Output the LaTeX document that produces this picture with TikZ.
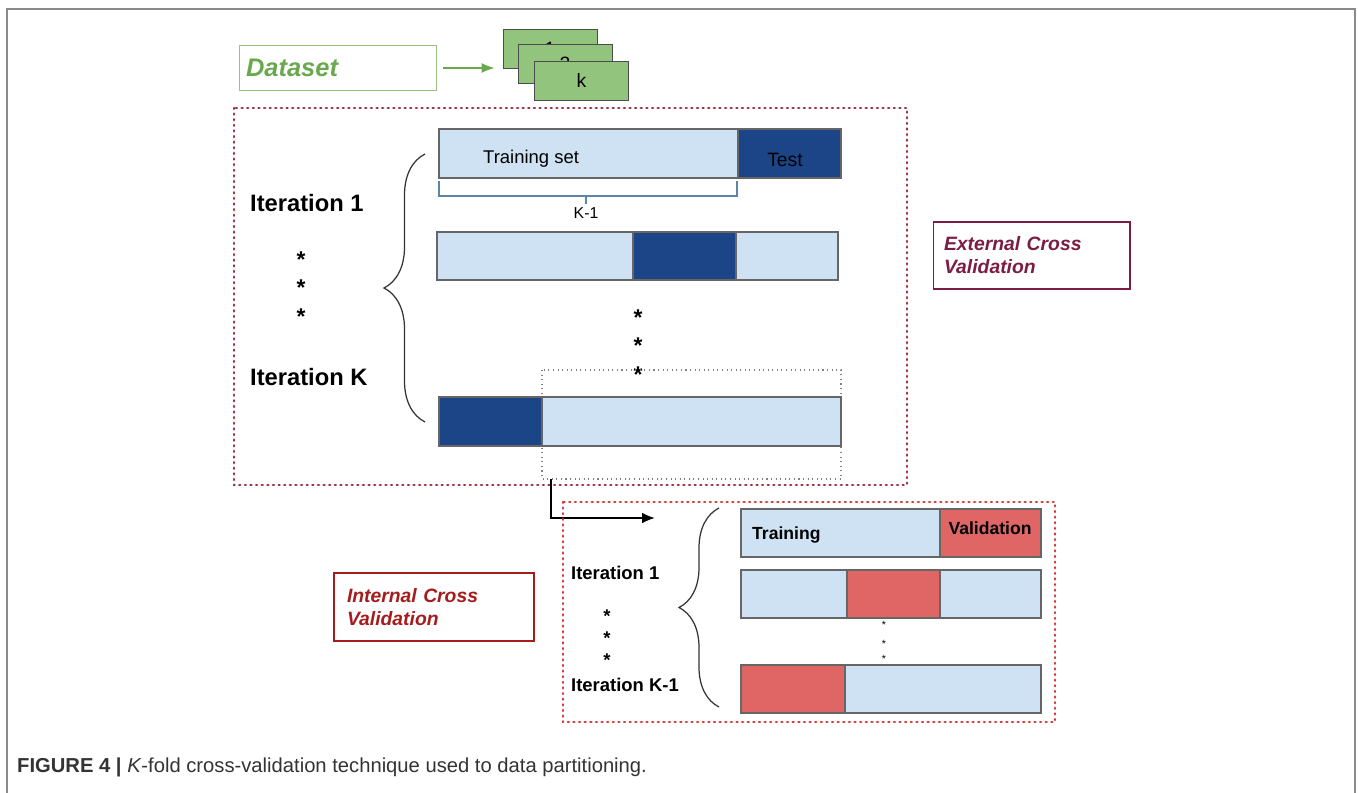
\documentclass[tikz,border=0pt]{standalone}
\usepackage{fontspec}
\setmainfont{Liberation Sans}
\usetikzlibrary{positioning,decorations.pathreplacing,arrows.meta}

\definecolor{lightbar}{HTML}{CFE2F3}
\definecolor{darkbar}{HTML}{1C4587}
\definecolor{redbar}{HTML}{E06666}
\definecolor{cardgreen}{HTML}{93C47D}
\definecolor{textgreen}{HTML}{6AA84F}
\definecolor{extred}{HTML}{7A1C44}
\definecolor{intred}{HTML}{A61C1C}
\definecolor{dotred}{HTML}{D23A3A}
\definecolor{dotmaroon}{HTML}{9A3040}
\definecolor{framegray}{HTML}{8A8A8A}
\definecolor{bracketblue}{HTML}{5B85AA}

\begin{document}
\begin{tikzpicture}[x=0.02cm, y=-0.02cm,
    seg/.style={draw=black!60, line width=0.7pt},
    card/.style={rectangle, draw=black!70, fill=cardgreen, minimum width=1.88cm, minimum height=0.78cm, inner sep=0, font=\fontsize{11}{13}\selectfont},
    labelbox/.style={rectangle, draw, line width=0.6pt, align=left, font=\fontsize{11}{13}\selectfont\bfseries\itshape},
    reddots/.style={line width=1.5pt, line cap=round, dash pattern=on 0.5pt off 2.7pt},
    bigiter/.style={anchor=west, font=\fontsize{13.5}{15}\selectfont\bfseries},
    smalliter/.style={anchor=west, font=\fontsize{10.5}{12}\selectfont\bfseries},
    star/.style={font=\fontsize{13}{15}\selectfont\bfseries},
    curly/.style={decorate, line width=0.7pt, black!80}
]
    \useasboundingbox (0,0) rectangle (1358,793);

    % Figure frame
    \draw[framegray, line width=1.1pt] (7,793) -- (7,9) -- (1355,9) -- (1355,793);

    % Dataset and folds
    \node[labelbox, draw=textgreen!70, text=textgreen, font=\fontsize{14.5}{16}\selectfont\bfseries\itshape, minimum height=0.9cm, text width=3.68cm, inner xsep=0.13cm] (dataset) at (338,68) {Dataset};
    \node[card] (fold1) at (550,48.5) {1};
    \node[card] (fold2) at (565,64) {2};
    \node[card] (foldk) at (581.5,80.5) {k};
    \draw[textgreen, line width=1pt, -{Latex[length=2.6mm, width=2mm]}] ([xshift=0.12cm]dataset.east) -- ([xshift=-0.16cm]dataset.east -| fold1.west);

    % External cross validation
    \draw[dotmaroon, reddots] (234,108) rectangle (907,485);
    \node[labelbox, draw=extred, text=extred, minimum height=1.34cm, text width=3.5cm, inner xsep=0.22cm] (extlabel) at (1031.5,255.5) {External Cross\\Validation};

    % Outer folds
    \draw[seg, fill=lightbar] (439,129) rectangle (738,178);
    \draw[seg, fill=darkbar] (738,129) rectangle (841,178);
    \node[anchor=west, font=\fontsize{10.5}{12}\selectfont] (trainset) at (477,159) {Training set};
    \node[font=\fontsize{11}{13}\selectfont] (test) at (785,160) {Test};

    \draw[bracketblue, line width=0.8pt] (439,181) -- (439,196) -- (737,196) -- (737,181);
    \draw[bracketblue, line width=0.8pt] (586,196) -- (586,204);
    \node[font=\fontsize{9}{11}\selectfont] (kminus) at (586,213) {K-1};

    \draw[seg, fill=lightbar] (437,232) rectangle (838,280);
    \draw[seg, fill=darkbar] (633,232) rectangle (736,280);

    \node[star] (mstar1) at (638,318) {*};
    \node[star] (mstar2) at (638,346) {*};
    \node[star] (mstar3) at (638,375) {*};

    \draw[black!50, line width=0.6pt, dotted] (542,370) rectangle (841,479);
    \draw[seg, fill=lightbar] (439,397) rectangle (841,446);
    \draw[seg, fill=darkbar] (439,397) rectangle (542,446);

    \node[bigiter] (iterone) at (244,203) {Iteration 1};
    \node[star] (lstar1) at (301,260) {*};
    \node[star] (lstar2) at (301,288) {*};
    \node[star] (lstar3) at (301,317) {*};
    \node[bigiter] (iterk) at (244,377) {Iteration K};
    \draw[curly, decoration={brace, amplitude=0.82cm}] (425,422) -- (425,154);

    % Picked fold goes inside
    \coordinate (pick) at (551,479);
    \coordinate (inner) at (655,518);
    \draw[black, line width=1.3pt, -{Latex[length=2.6mm, width=2.2mm]}] (pick) |- (inner);

    % Internal cross validation
    \draw[dotred, reddots] (563,502) rectangle (1055,722);
    \node[labelbox, draw=intred, text=intred, minimum height=1.36cm, text width=3.48cm, inner xsep=0.26cm] (intlabel) at (434,607) {Internal Cross\\Validation};

    \draw[seg, fill=lightbar] (741,509) rectangle (940,557);
    \draw[seg, fill=redbar] (940,509) rectangle (1041,557);
    \node[anchor=west, font=\fontsize{10}{12}\selectfont\bfseries] (training) at (746,535) {Training};
    \node[font=\fontsize{10}{12}\selectfont\bfseries] (validation) at (990,528) {Validation};

    \draw[seg, fill=lightbar] (741,570) rectangle (1041,618);
    \draw[seg, fill=redbar] (847,570) rectangle (940,618);

    \node[font=\fontsize{6}{7}\selectfont] (sstar1) at (884,625) {*};
    \node[font=\fontsize{6}{7}\selectfont] (sstar2) at (884,644) {*};
    \node[font=\fontsize{6}{7}\selectfont] (sstar3) at (884,659) {*};

    \draw[seg, fill=lightbar] (741,665) rectangle (1041,713);
    \draw[seg, fill=redbar] (741,665) rectangle (845,713);

    \node[smalliter] (initer1) at (565,573) {Iteration 1};
    \node[star, font=\fontsize{10.5}{12}\selectfont\bfseries] (istar1) at (607,616) {*};
    \node[star, font=\fontsize{10.5}{12}\selectfont\bfseries] (istar2) at (607,638) {*};
    \node[star, font=\fontsize{10.5}{12}\selectfont\bfseries] (istar3) at (607,660) {*};
    \node[smalliter] (initerk) at (565,685) {Iteration K-1};
    \draw[curly, decoration={brace, amplitude=0.8cm}] (719,707) -- (719,508);

    % Caption
    \node[anchor=west, text=black!80, font=\fontsize{11.5}{13}\selectfont] (caption) at (11,767) {\textbf{FIGURE 4 |} \textit{K}-fold cross-validation technique used to data partitioning.};
\end{tikzpicture}
\end{document}
